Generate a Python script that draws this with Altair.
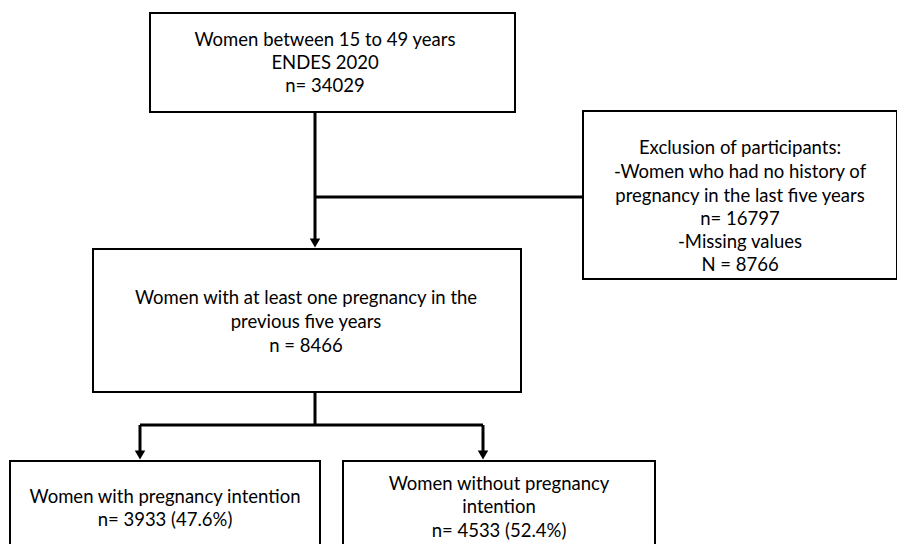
import altair as alt
import pandas as pd

# Boxes (pixel layout in page coordinates)
box_id = ["start", "excl", "mid", "left", "right"]
box_x1 = [150, 583, 93, 10, 343]
box_x2 = [515, 897, 521, 320, 655]
box_y1 = [13, 111, 249, 461, 461]
box_y2 = [112, 279, 392, 600, 600]

# Text lines
text_lines = [
    "Women between 15 to 49 years", "ENDES 2020", "n= 34029",
    "Exclusion of participants:", "-Women who had no history of",
    "pregnancy in the last five years", "n= 16797", "-Missing values", "N = 8766",
    "Women with at least one pregnancy in the", "previous five years", "n = 8466",
    "Women with pregnancy intention", "n= 3933 (47.6%)",
    "Women without pregnancy", "intention", "n= 4533 (52.4%)",
]
text_x = [325, 325, 325,
          740, 740, 740, 740, 740, 740,
          306, 306, 306,
          165, 165,
          499, 499, 499]
text_y = [40, 63, 86,
          148, 172, 196, 219, 242, 265,
          298, 322, 346,
          497, 520,
          484, 507, 531]

# Connector lines
line_x1 = [315, 315, 315, 140, 140, 483]
line_x2 = [315, 583, 315, 483, 140, 483]
line_y1 = [112, 197, 392, 425, 425, 425]
line_y2 = [242, 197, 425, 425, 455, 455]

# Arrow heads
arrow_x = [315, 140, 483]
arrow_y = [243, 455, 455]

boxes = pd.DataFrame(dict(id=box_id, x1=box_x1, x2=box_x2, y1=box_y1, y2=box_y2))
texts = pd.DataFrame(dict(t=text_lines, x=text_x, y=text_y))
lines = pd.DataFrame(dict(x1=line_x1, x2=line_x2, y1=line_y1, y2=line_y2))
arrows = pd.DataFrame(dict(x=arrow_x, y=arrow_y))

xs = alt.Scale(domain=[8, 897])
ys = alt.Scale(domain=[8, 544], reverse=True)
X = lambda f: alt.X(f, type="quantitative", scale=xs, axis=None)
Y = lambda f: alt.Y(f, type="quantitative", scale=ys, axis=None)

rects = alt.Chart(boxes).mark_rect(fill="white", stroke="black", strokeWidth=2, clip=True).encode(
    x=X("x1"), x2="x2", y=Y("y1"), y2="y2")

rules = alt.Chart(lines).mark_rule(color="black", strokeWidth=3, clip=True).encode(
    x=X("x1"), x2="x2", y=Y("y1"), y2="y2")

heads = alt.Chart(arrows).mark_point(shape="triangle-down", filled=True, color="black",
                                     size=110, opacity=1).encode(x=X("x"), y=Y("y"))

labels = alt.Chart(texts).mark_text(font="Lato", fontSize=18.5, color="black",
                                    align="center", baseline="middle").encode(
    x=X("x"), y=Y("y"), text="t:N")

chart = alt.layer(rects, rules, heads, labels).properties(
    width=889, height=536, padding=0, background="white",
    autosize=alt.AutoSizeParams(type="none")
).configure_view(stroke=None, strokeWidth=0)

chart.save("out.html", embed_options={"renderer": "svg", "actions": False})
